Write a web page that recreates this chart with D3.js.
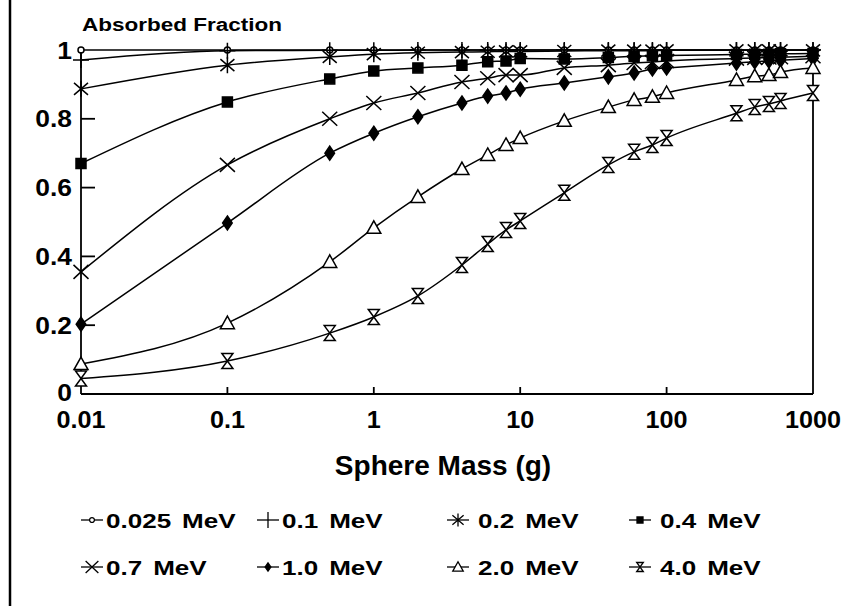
<!DOCTYPE html>
<html>
<head>
<meta charset="utf-8">
<script src="https://cdn.jsdelivr.net/npm/d3@7"></script>
<style>
  body { margin: 0; background: #fff; }
  svg text { font-family: "Liberation Sans", Arial, Helvetica, sans-serif; font-weight: bold; fill: #000; }
</style>
</head>
<body>
<div id="chart"></div>
<script>
// sphere masses (g)
var masses = [0.01, 0.1, 0.5, 1, 2, 4, 6, 8, 10, 20, 40, 60, 80, 100, 300, 400, 500, 600, 1000];

// absorbed fraction per photon energy
var e0025 = [1, 1, 1, 1, 1, 1, 1, 1, 1, 1, 1, 1, 1, 1, 1, 1, 1, 1, 1];
var e01 = [0.971, 0.998, 0.999, 0.999, 1, 1, 1, 1, 1, 1, 1, 1, 1, 1, 1, 1, 1, 1, 1];
var e02 = [0.887, 0.956, 0.98, 0.988, 0.992, 0.994, 0.995, 0.996, 0.996, 0.997, 0.998, 0.998, 0.998, 0.999, 0.999, 0.999, 0.999, 0.999, 0.999];
var e04 = [0.67, 0.849, 0.916, 0.939, 0.948, 0.956, 0.966, 0.968, 0.975, 0.974, 0.978, 0.982, 0.983, 0.984, 0.987, 0.988, 0.988, 0.989, 0.99];
var e07 = [0.355, 0.666, 0.80, 0.846, 0.875, 0.907, 0.918, 0.927, 0.927, 0.948, 0.956, 0.962, 0.965, 0.968, 0.975, 0.977, 0.978, 0.979, 0.982];
var e10 = [0.203, 0.497, 0.70, 0.758, 0.806, 0.846, 0.866, 0.875, 0.886, 0.904, 0.922, 0.933, 0.945, 0.948, 0.962, 0.966, 0.968, 0.97, 0.975];
var e20 = [0.087, 0.206, 0.384, 0.483, 0.573, 0.654, 0.695, 0.724, 0.744, 0.794, 0.834, 0.855, 0.864, 0.875, 0.913, 0.924, 0.927, 0.936, 0.948];
var e40 = [0.045, 0.096, 0.177, 0.224, 0.285, 0.375, 0.436, 0.477, 0.503, 0.585, 0.666, 0.704, 0.724, 0.744, 0.816, 0.834, 0.843, 0.852, 0.875];

var seriesNames = ["0.025 MeV", "0.1 MeV", "0.2 MeV", "0.4 MeV", "0.7 MeV", "1.0 MeV", "2.0 MeV", "4.0 MeV"];
var seriesValues = [e0025, e01, e02, e04, e07, e10, e20, e40];
var seriesMarkers = ["circle", "plus", "asterisk", "square", "cross", "diamond", "triangle", "hourglass"];

var xTicks = [0.01, 0.1, 1, 10, 100, 1000];
var xTickLabels = ["0.01", "0.1", "1", "10", "100", "1000"];
var yTicks = [0, 0.2, 0.4, 0.6, 0.8, 1];
var yTickLabels = ["0", "0.2", "0.4", "0.6", "0.8", "1"];

var width = 846, height = 606;
var svg = d3.select("#chart").append("svg")
    .attr("width", width)
    .attr("height", height);

// scanned page edge on the left
svg.append("line")
    .attr("x1", 10).attr("x2", 10).attr("y1", 0).attr("y2", height)
    .style("stroke", "#000").style("stroke-width", 2.5);

var xScale = d3.scaleLog().domain([0.01, 1000]).range([81, 813]);
var yScale = d3.scaleLinear().domain([0, 1]).range([394, 50]);

// marker shapes, centred on 0,0
function markerPath(type, k) {
    var p = d3.path();
    if (type === "circle") {
        var r = 3 * k;
        p.moveTo(r, 0); p.arc(0, 0, r, 0, 2 * Math.PI);
    } else if (type === "plus") {
        p.moveTo(-8 * k, 0); p.lineTo(8 * k, 0);
        p.moveTo(0, -8 * k); p.lineTo(0, 8 * k);
    } else if (type === "asterisk") {
        p.moveTo(0, -8 * k); p.lineTo(0, 8 * k);
        p.moveTo(-7 * k, -6 * k); p.lineTo(7 * k, 6 * k);
        p.moveTo(-7 * k, 6 * k); p.lineTo(7 * k, -6 * k);
    } else if (type === "square") {
        p.rect(-5 * k, -5 * k, 10 * k, 10 * k);
    } else if (type === "cross") {
        p.moveTo(-7.5 * k, -7 * k); p.lineTo(7.5 * k, 7 * k);
        p.moveTo(-7.5 * k, 7 * k); p.lineTo(7.5 * k, -7 * k);
    } else if (type === "diamond") {
        p.moveTo(0, -7 * k); p.lineTo(4.8 * k, 0); p.lineTo(0, 7 * k); p.lineTo(-4.8 * k, 0); p.closePath();
    } else if (type === "triangle") {
        p.moveTo(0, -7 * k); p.lineTo(7 * k, 5.5 * k); p.lineTo(-7 * k, 5.5 * k); p.closePath();
    } else if (type === "hourglass") {
        p.moveTo(-5.5 * k, -7.5 * k); p.lineTo(5.5 * k, -7.5 * k);
        p.lineTo(-5.5 * k, 7.5 * k); p.lineTo(5.5 * k, 7.5 * k); p.closePath();
    }
    return p.toString();
}
var markerFill = { circle: "#fff", plus: "none", asterisk: "none", square: "#000", cross: "none", diamond: "#000", triangle: "#fff", hourglass: "#fff" };

// axes
var axes = svg.append("g").attr("class", "axes");
axes.append("line")
    .attr("x1", xScale(0.01)).attr("x2", xScale(0.01))
    .attr("y1", yScale(1)).attr("y2", yScale(0));
axes.append("line")
    .attr("x1", xScale(0.01)).attr("x2", xScale(1000))
    .attr("y1", yScale(0)).attr("y2", yScale(0));
axes.append("line")
    .attr("x1", xScale(1000)).attr("x2", xScale(1000))
    .attr("y1", yScale(1)).attr("y2", yScale(0));
axes.selectAll(".ytick")
    .data(yTicks.slice(1, 5))
    .enter().append("line")
    .attr("class", "ytick")
    .attr("x1", xScale(0.01)).attr("x2", xScale(0.01) + 14)
    .attr("y1", d => yScale(d)).attr("y2", d => yScale(d));
axes.selectAll(".xtick")
    .data(xTicks.slice(1, 5))
    .enter().append("line")
    .attr("class", "xtick")
    .attr("x1", d => xScale(d)).attr("x2", d => xScale(d))
    .attr("y1", yScale(0)).attr("y2", yScale(0) - 7);
axes.selectAll("line").style("stroke", "#000").style("stroke-width", 1.8);

// tick labels (the scanned type is a little wide, so stretch horizontally)
svg.selectAll(".ylabel")
    .data(yTicks)
    .enter().append("text")
    .attr("class", "ylabel")
    .attr("transform", d => "translate(72," + (yScale(d) + (d === 0 ? 7 : 8.5)) + ") scale(1.1,1)")
    .attr("text-anchor", "end")
    .style("font-size", "24px")
    .text((d, i) => yTickLabels[i]);

svg.selectAll(".xlabel")
    .data(xTicks)
    .enter().append("text")
    .attr("class", "xlabel")
    .attr("transform", d => "translate(" + xScale(d) + ",428) scale(1.05,1)")
    .attr("text-anchor", "middle")
    .style("font-size", "24px")
    .text((d, i) => xTickLabels[i]);

svg.append("text")
    .attr("transform", "translate(82,31) scale(1.25,1)")
    .style("font-size", "18px")
    .text("Absorbed Fraction");

svg.append("text")
    .attr("transform", "translate(443,475)")
    .attr("text-anchor", "middle")
    .style("font-size", "28px")
    .text("Sphere Mass (g)");

// curves
var line = d3.line()
    .x(d => xScale(d[0]))
    .y(d => yScale(d[1]))
    .curve(d3.curveMonotoneX);

var plot = svg.append("g").attr("class", "plot");
seriesValues.forEach(function(vals, si) {
    var pts = masses.map((m, i) => [m, vals[i]]);
    plot.append("path")
        .datum(pts)
        .attr("d", line)
        .style("fill", "none")
        .style("stroke", "#000")
        .style("stroke-width", 1.5);
});
seriesValues.forEach(function(vals, si) {
    var pts = masses.map((m, i) => [m, vals[i]]);
    var type = seriesMarkers[si];
    plot.selectAll(".m" + si)
        .data(pts)
        .enter().append("path")
        .attr("class", "m" + si)
        .attr("transform", d => "translate(" + xScale(d[0]) + "," + yScale(d[1]) + ")")
        .attr("d", markerPath(type, 1))
        .style("fill", markerFill[type])
        .style("stroke", "#000")
        .style("stroke-width", 1.5);
});

// legend
var legendCols = [92, 268, 458, 640];
var legendRows = [520, 567];
var legendK = { circle: 0.8, plus: 0, asterisk: 0.8, square: 0.6, cross: 0.85, diamond: 0.6, triangle: 0.75, hourglass: 0.6 };
var legend = svg.append("g").attr("class", "legend");
seriesNames.forEach(function(name, i) {
    var cx = legendCols[i % 4], cy = legendRows[Math.floor(i / 4)];
    var type = seriesMarkers[i];
    var g = legend.append("g").attr("transform", "translate(" + cx + "," + cy + ")");
    g.append("line")
        .attr("x1", -11).attr("x2", 11).attr("y1", 0).attr("y2", 0)
        .style("stroke", "#000").style("stroke-width", 1.3);
    if (type === "plus") {
        g.append("line")
            .attr("x1", 0).attr("x2", 0).attr("y1", -8).attr("y2", 8)
            .style("stroke", "#000").style("stroke-width", 1.3);
    } else {
        g.append("path")
            .attr("d", markerPath(type, legendK[type]))
            .style("fill", markerFill[type])
            .style("stroke", "#000")
            .style("stroke-width", 1.3);
    }
    g.append("text")
        .attr("transform", "translate(" + (i % 4 < 2 ? 14 : 20) + ",7.5) scale(1.24,1)")
        .style("font-size", "21px")
        .style("word-spacing", "3px")
        .text(name);
});
</script>
</body>
</html>
